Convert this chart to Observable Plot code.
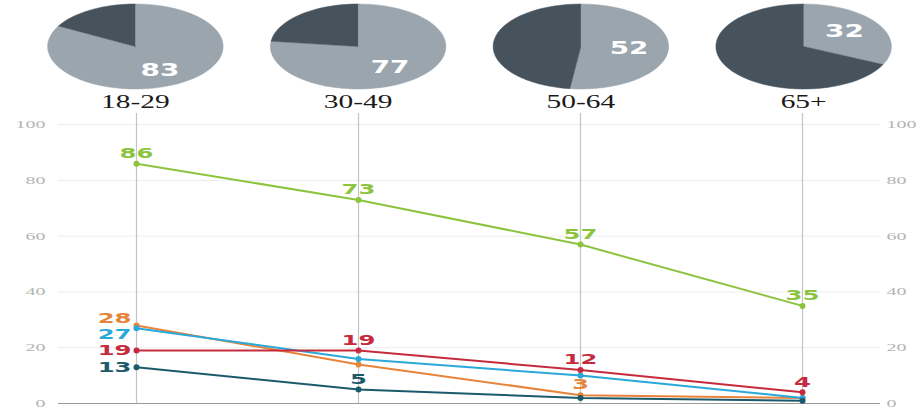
<!DOCTYPE html>
<html><head><meta charset="utf-8">
<script src="https://cdn.jsdelivr.net/npm/d3@7"></script>
<script src="https://cdn.jsdelivr.net/npm/@observablehq/plot@0.6"></script>
<style>body{margin:0;background:#fff} svg{display:block}</style>
</head><body><div id="chart"></div>
<script>
// ---- data ----
const ages = ["18-29", "30-49", "50-64", "65+"];
const pieValues = [83, 77, 52, 32];
const seriesNames = ["Series 1", "Series 2", "Series 3", "Series 4", "Series 5"];
const seriesGreen = [86, 73, 57, 35];
const seriesOrange = [28, 14, 3, 2];
const seriesCyan = [27, 16, 10, 2];
const seriesRed = [19, 19, 12, 4];
const seriesTeal = [13, 5, 2, 1];
const seriesColors = ["#8cc43f", "#e8843a", "#2aa8d9", "#c62a3d", "#1b5a6b"];
const yTicks = [0, 20, 40, 60, 80, 100];
// [series index, age index] of the points that carry a value label
const labelsLeft = [[1,0],[2,0],[3,0],[4,0]];
const labelsAbove = [[0,0],[0,1],[3,1],[4,1],[0,2],[3,2],[1,2],[0,3],[3,3]];

// ---- layout ----
const W = 917, mL = 58, mR = 37, pad = 0.345;
const pieLight = "#9aa5ae", pieDark = "#46525c";
const rx = 0.394; // horizontal pie radius in x units (pie is an ellipse)

const seriesValues = [seriesGreen, seriesOrange, seriesCyan, seriesRed, seriesTeal];
const rows = seriesValues.flatMap((vals, s) => vals.map((v, i) => ({series: seriesNames[s], age: ages[i], value: v, s, i})));

// pie slices
function slice(i, a0, a1, key) {
  const pts = [{key, x: i, y: 0}];
  const n = Math.max(2, Math.ceil((a1 - a0) * 80));
  for (let k = 0; k <= n; k++) {
    const t = 2 * Math.PI * (a0 + (a1 - a0) * k / n);
    pts.push({key, x: i + rx * Math.sin(t), y: Math.cos(t)});
  }
  return pts;
}
const lightPts = pieValues.flatMap((v, i) => slice(i, 0, v / 100, "l" + i));
const darkPts = pieValues.flatMap((v, i) => slice(i, v / 100, 1, "d" + i));
const pieLabels = pieValues.map((v, i) => {
  const mid = 2 * Math.PI * (v / 200);
  return {i, v, x: i + 0.55 * rx * Math.sin(mid), y: 0.65 * Math.cos(mid)};
});

const pieChart = Plot.plot({
  width: W, height: 110, marginLeft: mL, marginRight: mR, marginTop: 3.5, marginBottom: 21.5,
  style: {background: "white", overflow: "visible"},
  x: {type: "linear", domain: [-pad, 3 + pad], label: null},
  y: {domain: [-1, 1], axis: null},
  marks: [
    Plot.line(lightPts, {x: "x", y: "y", z: "key", fill: pieLight, stroke: pieLight, strokeWidth: 0.5}),
    Plot.line(darkPts, {x: "x", y: "y", z: "key", fill: pieDark, stroke: pieDark, strokeWidth: 0.5}),
    Plot.text(pieLabels, {x: "x", y: "y", text: "v", fill: "white", fontSize: 18, fontWeight: "bold", fontFamily: "DejaVu Sans", lineAnchor: "middle"}),
    Plot.axisX({ticks: [0, 1, 2, 3], tickFormat: (d) => ages[d], label: null, tickSize: 0, tickPadding: 5.5, fontSize: 19, fontFamily: "Liberation Serif", color: "#1a1a1a"})
  ]
});

// left labels with simple dodge (in data units)
const leftLabels = labelsLeft.map(([s, i]) => ({...rows.find(r => r.s === s && r.i === i)}));
leftLabels.sort((a, b) => b.value - a.value);
leftLabels.forEach(d => d.ly = d.value);
const gap = 5.8;
for (let k = 1; k < leftLabels.length; k++) {
  const a = leftLabels[k - 1], b = leftLabels[k];
  if (a.ly - b.ly < gap) { const m = (a.ly + b.ly) / 2; a.ly = m + gap / 2; b.ly = m - gap / 2; }
}
const aboveLabels = labelsAbove.map(([s, i]) => rows.find(r => r.s === s && r.i === i));

const labelStyle = {fontSize: 13.5, fontWeight: "bold", fontFamily: "DejaVu Sans", lineAnchor: "middle"};

const lineChart = Plot.plot({
  width: W, height: 300, marginLeft: mL, marginRight: mR, marginTop: 3, marginBottom: 7,
  style: {background: "white", overflow: "visible"},
  x: {type: "point", domain: ages, padding: pad, axis: null},
  y: {domain: [0, 104], label: null},
  color: {domain: seriesNames, range: seriesColors},
  marks: [
    Plot.gridY({ticks: yTicks, stroke: "#ececec", strokeOpacity: 1}),
    Plot.ruleX(ages, {stroke: "#c4c4c4", strokeWidth: 1.2}),
    Plot.ruleY([0], {stroke: "#9a9a9a"}),
    Plot.line(rows, {x: "age", y: "value", z: "series", stroke: "series", strokeWidth: 2}),
    Plot.dot(rows, {x: "age", y: "value", fill: "series", r: 3}),
    Plot.text(leftLabels, {x: "age", y: "ly", text: "value", fill: "series", textAnchor: "end", dx: -5, ...labelStyle}),
    Plot.text(aboveLabels, {x: "age", y: "value", text: "value", fill: "series", dy: -10, ...labelStyle}),
    Plot.axisY({ticks: yTicks, anchor: "left", label: null, tickSize: 0, tickPadding: 13, fontSize: 10.5, fontFamily: "Liberation Serif", color: "#b3b3b3"}),
    Plot.axisY({ticks: yTicks, anchor: "right", label: null, tickSize: 0, tickPadding: 6, fontSize: 10.5, fontFamily: "Liberation Serif", color: "#b3b3b3"})
  ]
});

// horizontal stretch of glyphs, as in the reference
function stretchText(svg, factors) {
  svg.querySelectorAll("text").forEach(t => {
    const g = t.closest("[font-size]");
    if (!g) return;
    const f = factors[g.getAttribute("font-size")];
    if (!f) return;
    let tr = t.getAttribute("transform");
    if (!tr) {
      const x = +t.getAttribute("x") || 0, y = +t.getAttribute("y") || 0;
      t.removeAttribute("x"); t.removeAttribute("y");
      tr = `translate(${x},${y})`;
    }
    t.setAttribute("transform", tr + ` scale(${f},1)`);
  });
}
const factors = {"18": 1.55, "19": 1.55, "13.5": 1.8, "10.5": 1.9};
stretchText(pieChart, factors);
stretchText(lineChart, factors);

document.getElementById("chart").append(pieChart, lineChart);
</script>
</body></html>
